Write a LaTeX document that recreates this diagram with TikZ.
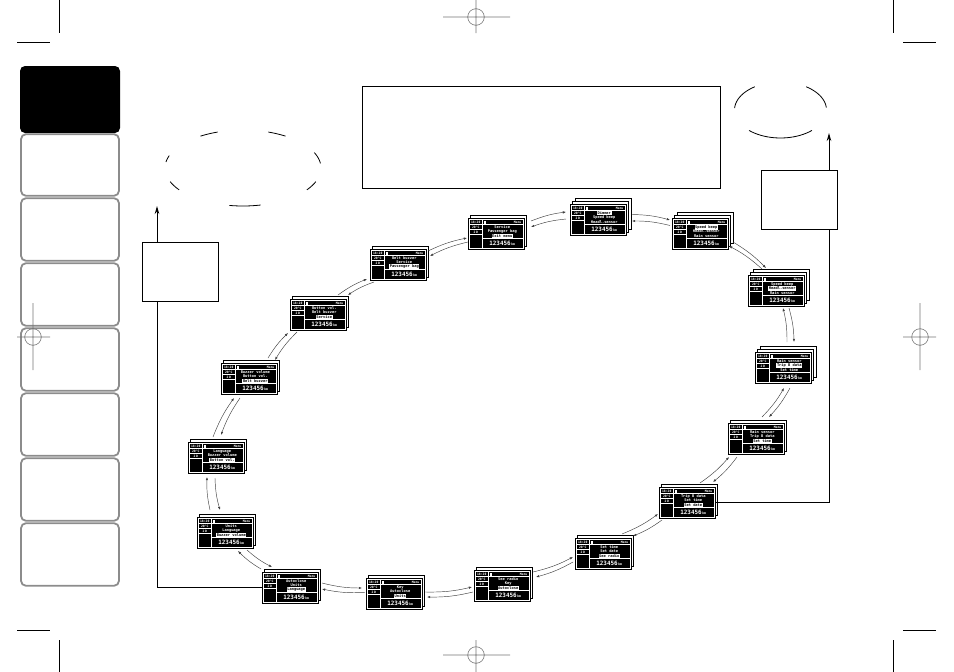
\documentclass[tikz,border=0pt]{standalone}
\usepackage{fontspec}
\newfontfamily\scrfont{DejaVu Sans Mono}
\usetikzlibrary{arrows.meta}
\newcommand\scrline[4]{\ifnum#1=#2\relax\node[hlt] at (34.25,#3) {#4};\else\node[wt] at (34.25,#3) {#4};\fi}
\newcommand\scrmenu[8]{%
\begin{scope}[shift={(#2,#3)}]
\ifnum#4>2 \draw[layer] (5,-6) rectangle (61,25);\fi
\ifnum#4>1 \draw[layer] (2.5,-3) rectangle (58.5,28);\fi
\node[scr] (#1) at (28,15.5) {};
\fill[black] (1.5,1.5) rectangle (54.5,29.5);
\draw[gridw] (14,1.5) -- (14,29.5) (1.5,6.5) -- (54.5,6.5) (1.5,11.5) -- (14,11.5) (1.5,16.5) -- (14,16.5) (14,20.5) -- (54.5,20.5);
\node[hd] at (7.75,4.1) {18:20};
\node[hd] at (7.75,9.1) {20°C};
\node[hd] at (7.75,14.1) {2\,D};
\fill[white] (15.5,2.5) rectangle (17.5,5.5);
\node[hd, anchor=east] at (53.5,4.1) {Menu};
\scrline{#8}{1}{9.3}{#5}
\scrline{#8}{2}{13.5}{#6}
\scrline{#8}{3}{17.7}{#7}
\node[wt] at (34.25,25.3) {{\fontsize{5.9}{5.9}\selectfont 123456}\,{\fontsize{3.2}{3.2}\selectfont km}};
\end{scope}}
\begin{document}
\begin{tikzpicture}[x=1pt,y=-1pt,
  layer/.style={draw=black, fill=white, line width=0.7pt},
  scr/.style={draw=black, fill=white, line width=0.8pt, minimum width=56pt, minimum height=31pt, inner sep=0pt, outer sep=0pt},
  gridw/.style={white, line width=0.6pt},
  wt/.style={text=white, font=\scrfont\bfseries\fontsize{3.7}{3.7}\selectfont, inner sep=0pt},
  hlt/.style={fill=white, text=black, font=\scrfont\bfseries\fontsize{3.7}{3.7}\selectfont, inner sep=0.6pt},
  hd/.style={text=white, font=\scrfont\bfseries\fontsize{3.1}{3.1}\selectfont, inner sep=0pt},
  arr/.style={draw=black!75, line width=0.45pt, -{Latex[length=3.2pt,width=2.4pt]}},
  cwo/.style={arr, bend left=7},
  cwi/.style={arr, bend right=7},
  bigbox/.style={draw=black, line width=0.9pt, inner sep=0pt},
  conn/.style={draw=black, line width=1pt},
  tipa/.style={-{Stealth[length=8pt,width=4.5pt]}},
  tab/.style={draw=black!45, line width=1.8pt, rounded corners=5pt},
  reg/.style={draw=black!55, line width=0.6pt},
  crop/.style={draw=black, line width=0.6pt},
  ell/.style={draw=black, line width=0.8pt}]
\useasboundingbox (0,0) rectangle (954,672);
% side tabs
\fill[black, rounded corners=5pt] (20,66) rectangle (120,133);
\foreach \a/\b in {133/197,197/262,262/327,327/392,392/457,457/522,522/587}
  \draw[tab] (21,\a+1.2) rectangle (119,\b-1.2);
% crop and registration marks
\draw[crop] (59,0) -- (59,33) (17,42) -- (50,42);
\draw[crop] (893,0) -- (893,33) (903,42) -- (936,42);
\draw[crop] (59,640) -- (59,672) (17,630) -- (50,630);
\draw[crop] (893,640) -- (893,672) (903,630) -- (936,630);
\draw[reg] (476,17) circle (8.3) (443,17) -- (510,17) (476,0) -- (476,33);
\draw[reg] (33,337) circle (8.3) (17,337) -- (50,337) (33,303) -- (33,370);
\draw[reg] (920,337) circle (8.3) (903,337) -- (936,337) (920,303) -- (920,370);
\draw[reg] (476,655) circle (8.3) (443,655) -- (510,655) (476,640) -- (476,672);
% boxes
\node[bigbox, minimum width=358pt, minimum height=102pt] (topbox) at (541,137) {};
\node[bigbox, minimum width=76pt, minimum height=59pt] (leftbox) at (180,272) {};
\node[bigbox, minimum width=76pt, minimum height=59pt] (rightbox) at (799,199.5) {};
% broken ellipses
\foreach \a/\b in {109/123,57/71,161/171,7/24,201/215,325/339,260/283}
  \draw[ell] plot[domain=\a:\b, samples=12] ({243+78*cos(\x)},{168-38*sin(\x)});
\foreach \a/\b in {124/176,5/56,227/313}
  \draw[ell] plot[domain=\a:\b, samples=20] ({780.5+46*cos(\x)},{110-28*sin(\x)});
% screens
\scrmenu{s1}{262}{572}{2}{Autoclose}{Units}{Language}{3}
\scrmenu{s2}{366}{578}{2}{Key}{Autoclose}{Units}{3}
\scrmenu{s3}{474}{570}{2}{See radio}{Key}{Autoclose}{3}
\scrmenu{s4}{575}{538}{2}{Set time}{Set date}{See radio}{3}
\scrmenu{s5}{659}{487}{2}{Trip B data}{Set time}{Set date}{3}
\scrmenu{s6}{728}{423}{2}{Rain sensor}{Trip B data}{Set time}{3}
\scrmenu{s7}{755}{352}{3}{Rain sensor}{Trip B data}{Set time}{2}
\scrmenu{s8}{748}{275}{3}{Speed beep}{Headl.sensor}{Rain sensor}{2}
\scrmenu{s9}{672}{218}{3}{Speed beep}{Headl.sensor}{Rain sensor}{1}
\scrmenu{s10}{570}{204}{3}{Dimmer}{Speed beep}{Headl.sensor}{1}
\scrmenu{s11}{468}{218}{2}{Service}{Passenger bag}{Exit menu}{3}
\scrmenu{s12}{370}{249}{2}{Belt buzzer}{Service}{Passenger bag}{3}
\scrmenu{s13}{290}{299}{2}{Button vol.}{Belt buzzer}{Service}{3}
\scrmenu{s14}{221}{363}{2}{Buzzer volume}{Button vol.}{Belt buzzer}{3}
\scrmenu{s15}{188}{442}{2}{Language}{Buzzer volume}{Button vol.}{3}
\scrmenu{s16}{197}{517}{2}{Units}{Language}{Buzzer volume}{3}
% arrows between screens
\draw[cwo] ([shift={(7,-12.5)}]s11.east) to ([shift={(-4,-7.5)}]s10.west);
\draw[cwi] ([shift={(-4,-0.5)}]s10.west) to ([shift={(7,-6.5)}]s11.east);
\draw[cwo] ([shift={(6,-5)}]s10.east) to ([shift={(-2,-13.5)}]s9.west);
\draw[cwi] ([shift={(-2,-8)}]s9.west) to ([shift={(6,1.5)}]s10.east);
\draw[cwo] ([shift={(5,-7)}]s9.south east) to ([shift={(18,-7)}]s8.north west);
\draw[cwi] ([shift={(14,-6)}]s8.north west) to ([shift={(1,-3)}]s9.south east);
\draw[cwo] ([shift={(13,2)}]s8.south) to ([shift={(11,-10)}]s7.north);
\draw[cwi] ([shift={(4,-10)}]s7.north) to ([shift={(7,2)}]s8.south);
\draw[cwo] ([shift={(7,5)}]s7.south) to ([shift={(13,-6)}]s6.north);
\draw[cwi] ([shift={(6,-6)}]s6.north) to ([shift={(1,5)}]s7.south);
\draw[cwo] ([shift={(9,3)}]s6.south west) to ([shift={(-2,-5)}]s5.north east);
\draw[cwi] ([shift={(-15,-4)}]s5.north east) to ([shift={(1,3)}]s6.south west);
\draw[cwo] ([shift={(3,2)}]s5.south west) to ([shift={(2,-2)}]s4.north east);
\draw[cwi] ([shift={(-9,-4)}]s4.north east) to ([shift={(-1,-4)}]s5.south west);
\draw[cwo] ([shift={(-2,8.5)}]s4.west) to ([shift={(6,-8.5)}]s3.east);
\draw[cwi] ([shift={(3,-13.5)}]s3.east) to ([shift={(-2,3.5)}]s4.west);
\draw[cwo] ([shift={(-1,6.5)}]s3.west) to ([shift={(5,3.5)}]s2.east);
\draw[cwi] ([shift={(3,-1.5)}]s2.east) to ([shift={(-2,1.5)}]s3.west);
\draw[cwo] ([shift={(-1,-1)}]s2.west) to ([shift={(4,1.5)}]s1.east);
\draw[cwi] ([shift={(4,-4.5)}]s1.east) to ([shift={(-4,-5.5)}]s2.west);
\draw[cwo] ([shift={(-1,-3)}]s1.north west) to ([shift={(-15,3)}]s16.south east);
\draw[cwi] ([shift={(-6,2)}]s16.south east) to ([shift={(10,-5)}]s1.north west);
\draw[cwo] ([shift={(-15,-7)}]s16.north) to ([shift={(-9,4)}]s15.south);
\draw[cwi] ([shift={(-1,5)}]s15.south) to ([shift={(-5,-7)}]s16.north);
\draw[cwo] ([shift={(-3,-5)}]s15.north) to ([shift={(-15,4)}]s14.south);
\draw[cwi] ([shift={(-9,4)}]s14.south) to ([shift={(5,-7)}]s15.north);
\draw[cwo] ([shift={(-9,-5)}]s14.north east) to ([shift={(-2,3)}]s13.south west);
\draw[cwi] ([shift={(7,2)}]s13.south west) to ([shift={(-2,-3)}]s14.north east);
\draw[cwo] ([shift={(-8,-4)}]s13.north east) to ([shift={(-3,-1)}]s12.south west);
\draw[cwi] ([shift={(4,2)}]s12.south west) to ([shift={(2,-4)}]s13.north east);
\draw[cwo] ([shift={(2,2)}]s12.north east) to ([shift={(-1,4.5)}]s11.west);
\draw[cwi] ([shift={(0,8.5)}]s11.west) to ([shift={(4,7)}]s12.north east);
% side connectors
\coordinate (ltip) at (157,206);
\coordinate (rtip) at (829,133);
\draw[conn, tipa] ([shift={(-23,0)}]leftbox.north) -- (ltip);
\draw[conn] ([shift={(-23,0)}]leftbox.south) |- (s1.west);
\draw[conn, tipa] ([shift={(30,0)}]rightbox.north) -- (rtip);
\draw[conn] ([shift={(30,0)}]rightbox.south) |- (s5.east);
\end{tikzpicture}
\end{document}
